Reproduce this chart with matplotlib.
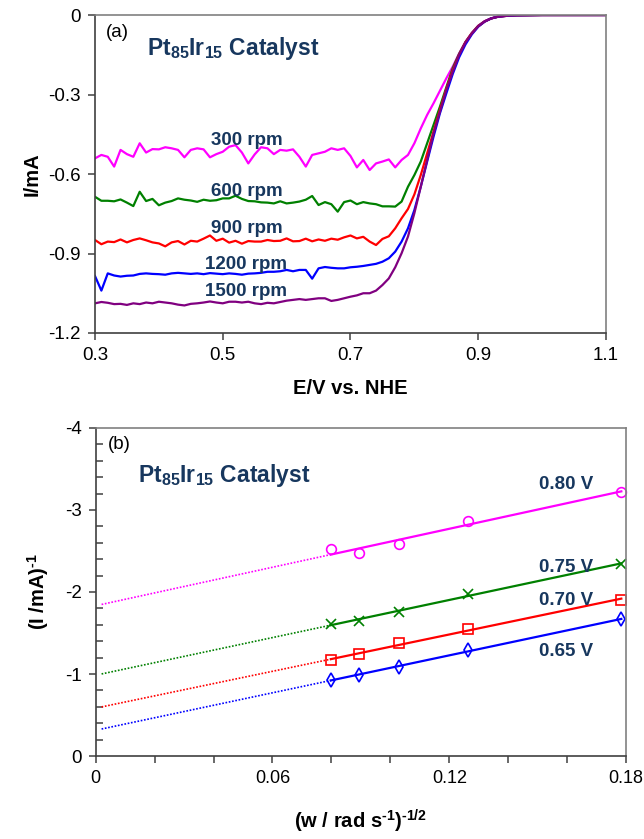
import numpy as np
import matplotlib
matplotlib.use("Agg")
import matplotlib.pyplot as plt
from matplotlib.ticker import FixedLocator, MultipleLocator

plt.rcParams["font.family"] = ["Liberation Sans", "DejaVu Sans"]
plt.rcParams["mathtext.fontset"] = "custom"
plt.rcParams["mathtext.rm"] = "Liberation Sans:bold"
plt.rcParams["mathtext.bf"] = "Liberation Sans:bold"
plt.rcParams["axes.unicode_minus"] = False

# ---- (a) polarisation curves at several rotation rates
potential = [0.30, 0.31, 0.32, 0.33, 0.34, 0.35, 0.36, 0.37, 0.38, 0.39,
             0.40, 0.41, 0.42, 0.43, 0.44, 0.45, 0.46, 0.47, 0.48, 0.49,
             0.50, 0.51, 0.52, 0.53, 0.54, 0.55, 0.56, 0.57, 0.58, 0.59,
             0.60, 0.61, 0.62, 0.63, 0.64, 0.65, 0.66, 0.67, 0.68, 0.69,
             0.70, 0.71, 0.72, 0.73, 0.74, 0.75, 0.76, 0.77, 0.78, 0.79,
             0.80, 0.81, 0.82, 0.83, 0.84, 0.85, 0.86, 0.87, 0.88, 0.89,
             0.90, 0.91, 0.92, 0.93, 0.94, 0.95, 0.96, 1.00, 1.05, 1.10]

i_300 = [-0.541, -0.528, -0.535, -0.572, -0.509, -0.525, -0.535, -0.484, -0.519, -0.506,
         -0.507, -0.499, -0.503, -0.509, -0.537, -0.509, -0.503, -0.507, -0.537, -0.525,
         -0.516, -0.497, -0.491, -0.519, -0.560, -0.526, -0.499, -0.503, -0.525, -0.509,
         -0.512, -0.507, -0.535, -0.572, -0.528, -0.522, -0.516, -0.503, -0.509, -0.503,
         -0.532, -0.575, -0.547, -0.585, -0.560, -0.553, -0.545, -0.575, -0.547, -0.528,
         -0.484, -0.428, -0.377, -0.333, -0.286, -0.239, -0.195, -0.145, -0.101, -0.067,
         -0.040, -0.023, -0.013, -0.006, -0.004, -0.002, -0.001, 0.0, 0.0, 0.0]

i_600 = [-0.686, -0.701, -0.701, -0.703, -0.696, -0.708, -0.721, -0.667, -0.702, -0.694,
         -0.718, -0.708, -0.702, -0.692, -0.697, -0.700, -0.705, -0.697, -0.701, -0.699,
         -0.692, -0.692, -0.682, -0.694, -0.702, -0.703, -0.707, -0.708, -0.711, -0.703,
         -0.711, -0.708, -0.704, -0.697, -0.683, -0.717, -0.706, -0.714, -0.742, -0.706,
         -0.700, -0.714, -0.706, -0.711, -0.714, -0.722, -0.722, -0.723, -0.704, -0.648,
         -0.604, -0.553, -0.484, -0.415, -0.346, -0.273, -0.201, -0.147, -0.102, -0.068,
         -0.041, -0.024, -0.013, -0.007, -0.004, -0.002, -0.001, 0.0, 0.0, 0.0]

i_900 = [-0.849, -0.865, -0.855, -0.857, -0.847, -0.858, -0.849, -0.843, -0.850, -0.858,
         -0.862, -0.873, -0.858, -0.853, -0.866, -0.852, -0.855, -0.844, -0.832, -0.852,
         -0.844, -0.859, -0.852, -0.863, -0.853, -0.855, -0.855, -0.849, -0.853, -0.852,
         -0.843, -0.854, -0.853, -0.844, -0.854, -0.847, -0.852, -0.844, -0.848, -0.839,
         -0.832, -0.843, -0.837, -0.855, -0.868, -0.845, -0.835, -0.805, -0.767, -0.732,
         -0.677, -0.604, -0.522, -0.440, -0.358, -0.279, -0.208, -0.151, -0.103, -0.069,
         -0.042, -0.024, -0.013, -0.007, -0.004, -0.002, -0.001, 0.0, 0.0, 0.0]

i_1200 = [-0.985, -1.040, -0.975, -0.983, -0.987, -0.984, -0.983, -0.977, -0.975, -0.977,
          -0.978, -0.980, -0.975, -0.973, -0.975, -0.977, -0.975, -0.978, -0.974, -0.976,
          -0.978, -0.975, -0.977, -0.980, -0.976, -0.975, -0.973, -0.969, -0.969, -0.967,
          -0.962, -0.967, -0.962, -0.962, -0.995, -0.956, -0.951, -0.954, -0.956, -0.956,
          -0.952, -0.950, -0.947, -0.943, -0.939, -0.931, -0.918, -0.893, -0.855, -0.805,
          -0.736, -0.648, -0.553, -0.459, -0.371, -0.296, -0.223, -0.160, -0.111, -0.073,
          -0.044, -0.025, -0.013, -0.007, -0.004, -0.002, -0.001, 0.0, 0.0, 0.0]

i_1500 = [-1.088, -1.083, -1.086, -1.091, -1.090, -1.094, -1.088, -1.091, -1.085, -1.088,
          -1.082, -1.085, -1.088, -1.093, -1.096, -1.090, -1.088, -1.085, -1.081, -1.085,
          -1.088, -1.082, -1.082, -1.085, -1.082, -1.088, -1.091, -1.086, -1.088, -1.083,
          -1.078, -1.075, -1.072, -1.075, -1.072, -1.069, -1.069, -1.079, -1.075, -1.069,
          -1.063, -1.058, -1.050, -1.050, -1.040, -1.019, -0.994, -0.952, -0.899, -0.836,
          -0.748, -0.648, -0.547, -0.447, -0.365, -0.283, -0.214, -0.151, -0.104, -0.070,
          -0.043, -0.025, -0.013, -0.007, -0.004, -0.002, -0.001, 0.0, 0.0, 0.0]

rpm_labels = ["300 rpm", "600 rpm", "900 rpm", "1200 rpm", "1500 rpm"]
a_xticks = [0.3, 0.5, 0.7, 0.9, 1.1]
a_xticklabels = ["0.3", "0.5", "0.7", "0.9", "1.1"]
a_yticks = [0.0, -0.3, -0.6, -0.9, -1.2]
a_yticklabels = ["0", "-0.3", "-0.6", "-0.9", "-1.2"]

# ---- (b) Koutecky-Levich plot
inv_sqrt_w = [0.0798, 0.0892, 0.1030, 0.1262, 0.1784]
inv_i_080 = [-2.52, -2.47, -2.59, -2.87, -3.22]
inv_i_075 = [-1.607, -1.648, -1.76, -1.98, -2.34]
inv_i_070 = [-1.168, -1.238, -1.373, -1.55, -1.906]
inv_i_065 = [-0.93, -0.984, -1.087, -1.29, -1.668]
volt_labels = ["0.80 V", "0.75 V", "0.70 V", "0.65 V"]
b_xticks = [0.0, 0.06, 0.12, 0.18]
b_xticklabels = ["0", "0.06", "0.12", "0.18"]
b_yticks = [0, -1, -2, -3, -4]
b_yticklabels = ["0", "-1", "-2", "-3", "-4"]

navy = "#17375E"
title_txt = r"Pt$_{85}$Ir$_{15}$ Catalyst"

fig = plt.figure(figsize=(6.44, 8.39), dpi=100)
ax1 = fig.add_axes([0.1475, 0.6031, 0.7935, 0.3790])
ax2 = fig.add_axes([0.1486, 0.0989, 0.8235, 0.3910])


def style_frame(ax):
    ax.spines["left"].set_color("#404040")
    ax.spines["bottom"].set_color("#404040")
    ax.spines["top"].set_color("#808080")
    ax.spines["right"].set_color("#808080")
    for s in ax.spines.values():
        s.set_linewidth(1.2)


# Plot (a)
curves = [i_300, i_600, i_900, i_1200, i_1500]
colors = ["#FF00FF", "#008000", "#FF0000", "#0000FF", "#800080"]
for cur, col in zip(curves, colors):
    ax1.plot(potential, cur, color=col, linewidth=1.6)

ax1.set_xlim(0.3, 1.1)
ax1.set_ylim(-1.2, 0)
ax1.xaxis.set_major_locator(FixedLocator(a_xticks))
ax1.set_xticklabels(a_xticklabels)
ax1.yaxis.set_major_locator(FixedLocator(a_yticks))
ax1.set_yticklabels(a_yticklabels)
ax1.tick_params(direction="out", length=5, width=1.1, color="#404040", labelsize=13.5, pad=5)
ax1.tick_params(top=False, right=False)
style_frame(ax1)
ax1.set_xlabel("E/V vs. NHE", fontsize=14.5, fontweight="bold", labelpad=11)
ax1.set_ylabel("I/mA", fontsize=14.5, fontweight="bold", labelpad=5)

label_pos = [(0.481, -0.472), (0.481, -0.667), (0.481, -0.804),
             (0.472, -0.943), (0.472, -1.044)]
for txt, (x, y) in zip(rpm_labels, label_pos):
    ax1.text(x, y, txt, color=navy, fontsize=13.5, fontweight="bold",
             ha="left", va="center")
ax1.text(0.317, -0.065, "(a)", fontsize=13.5, ha="left", va="center")
ax1.text(0.516, -0.125, title_txt, color=navy, fontsize=16.5,
         fontweight="bold", ha="center", va="center")

# Plot (b)
series = [inv_i_080, inv_i_075, inv_i_070, inv_i_065]
b_colors = ["#FF00FF", "#008000", "#FF0000", "#0000FF"]
markers = ["o", "x", "s", "d"]
xs = np.array(inv_sqrt_w)
for vals, col, mk in zip(series, b_colors, markers):
    slope, icpt = np.polyfit(xs, vals, 1)
    x_solid = np.array([xs.min(), xs.max()])
    x_dot = np.array([0.002, xs.min()])
    ax2.plot(x_solid, slope * x_solid + icpt, color=col, linewidth=1.6)
    ax2.plot(x_dot, slope * x_dot + icpt, color=col, linewidth=1.2, linestyle=(0, (1, 1)))
    ax2.plot(xs, vals, linestyle="none", marker=mk, markersize=7,
             markerfacecolor="none", markeredgecolor=col, markeredgewidth=1.2,
             clip_on=False)

ax2.set_xlim(0, 0.18)
ax2.set_ylim(0, -4)
ax2.xaxis.set_major_locator(FixedLocator(b_xticks))
ax2.set_xticklabels(b_xticklabels)
ax2.xaxis.set_minor_locator(MultipleLocator(0.02))
ax2.yaxis.set_major_locator(FixedLocator(b_yticks))
ax2.set_yticklabels(b_yticklabels)
ax2.yaxis.set_minor_locator(MultipleLocator(0.2))
ax2.tick_params(which="major", direction="out", length=5, width=1.1, color="#404040",
                labelsize=13.5, pad=5)
ax2.tick_params(axis="x", which="major", labelsize=13)
ax2.tick_params(axis="x", which="minor", direction="out", length=5, width=1.1, color="#404040")
ax2.tick_params(axis="y", which="minor", direction="in", length=5, width=1.1, color="#404040")
ax2.tick_params(which="both", top=False, right=False)
style_frame(ax2)
ax2.set_xlabel(r"(w / rad s$^{\text{-}1}$)$^{\text{-}1/2}$", fontsize=14.5,
               fontweight="bold", labelpad=15)
ax2.set_ylabel(r"(I /mA)$^{\text{-}1}$", fontsize=14.5, fontweight="bold", labelpad=10)

volt_pos = [(0.1597, -3.31), (0.1597, -2.295), (0.1597, -1.894), (0.1597, -1.28)]
for txt, (x, y) in zip(volt_labels, volt_pos):
    ax2.text(x, y, txt, color=navy, fontsize=13.5, fontweight="bold",
             ha="center", va="center")
ax2.text(0.004, -3.8, "(b)", fontsize=13.5, ha="left", va="center")
ax2.text(0.0435, -3.42, title_txt, color=navy, fontsize=16.5,
         fontweight="bold", ha="center", va="center")

fig.savefig("out.png", dpi=100)
